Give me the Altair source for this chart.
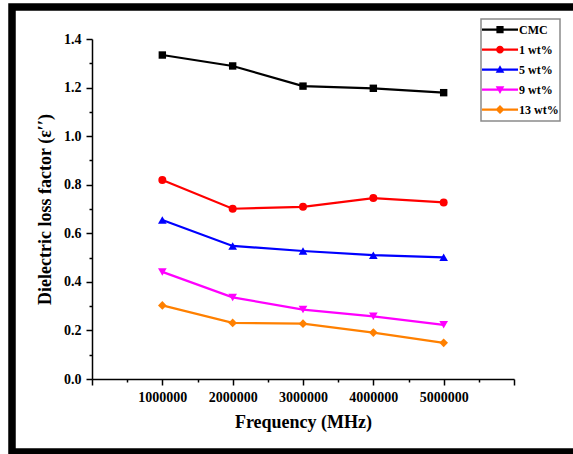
import altair as alt
import pandas as pd

# ---- data ----
freq = [1000000, 2000000, 3000000, 4000000, 5000000]
series_names = ["CMC", "1 wt%", "5 wt%", "9 wt%", "13 wt%"]
cmc = [1.334, 1.289, 1.206, 1.197, 1.179]
wt1 = [0.819, 0.701, 0.709, 0.745, 0.727]
wt5 = [0.655, 0.548, 0.527, 0.510, 0.501]
wt9 = [0.441, 0.336, 0.286, 0.258, 0.223]
wt13 = [0.303, 0.231, 0.228, 0.191, 0.149]
all_values = [cmc, wt1, wt5, wt9, wt13]

x_tick_values = [i * 500000 for i in range(13)]
y_tick_values = [round(i * 0.1, 1) for i in range(15)]

# ---- styles ----
colors = ["#000000", "#FF0000", "#0000FF", "#FF00FF", "#FF8000"]
marker_shapes = ["square", "circle", "triangle-up", "triangle-down", "diamond"]
marker_sizes = [55, 64, 75, 75, 75]
legend_paths = [
    "M-1,-0.06H1V0.06H-1Z M-0.2,-0.2H0.2V0.2H-0.2Z",
    "M-1,-0.06H1V0.06H-1Z M-0.22,0A0.22,0.22 0 1,1 0.22,0A0.22,0.22 0 1,1 -0.22,0Z",
    "M-1,-0.06H1V0.06H-1Z M0,-0.24L0.24,0.18L-0.24,0.18Z",
    "M-1,-0.06H1V0.06H-1Z M0,0.24L-0.24,-0.18L0.24,-0.18Z",
    "M-1,-0.06H1V0.06H-1Z M0,-0.25L0.25,0L0,0.25L-0.25,0Z",
]

rows = []
for name, vals in zip(series_names, all_values):
    for f, v in zip(freq, vals):
        rows.append({"Frequency": f, "value": v, "series": name})
df = pd.DataFrame(rows)

FONT = "Liberation Serif"

x_enc = alt.X(
    "Frequency:Q",
    scale=alt.Scale(domain=[0, 6000000], nice=False, zero=False),
    axis=alt.Axis(
        title="Frequency (MHz)",
        values=x_tick_values,
        format="d",
        labelExpr="(datum.value % 1000000 === 0 && datum.value > 0 && datum.value < 6000000) ? datum.label : ''",
        tickSize={"condition": {"test": "datum.value % 1000000 === 0", "value": 6}, "value": 3},
        labelPadding=5,
        titlePadding=9,
        labelFlush=False,
        labelOverlap=False,
    ),
)
y_enc = alt.Y(
    "value:Q",
    scale=alt.Scale(domain=[0, 1.4], nice=False),
    axis=alt.Axis(
        title="Dielectric loss factor (ε′′)",
        values=y_tick_values,
        format=".1f",
        labelExpr="round(datum.value * 10) % 2 === 0 ? datum.label : ''",
        tickSize={"condition": {"test": "round(datum.value * 10) % 2 === 0", "value": 6}, "value": 3},
        labelPadding=5,
        titlePadding=9,
        labelFlush=False,
        labelOverlap=False,
    ),
)

layers = []
for name, col in zip(series_names, colors):
    layers.append(
        alt.Chart(df)
        .transform_filter(alt.datum.series == name)
        .mark_line(color=col, strokeWidth=2.2)
        .encode(x=x_enc, y=y_enc)
    )
for name, col, shp, sz in zip(series_names, colors, marker_shapes, marker_sizes):
    layers.append(
        alt.Chart(df)
        .transform_filter(alt.datum.series == name)
        .mark_point(color=col, shape=shp, size=sz, filled=True, opacity=1)
        .encode(x=x_enc, y=y_enc)
    )

legend_layer = (
    alt.Chart(df)
    .mark_point(filled=True, opacity=0)
    .encode(
        x=x_enc,
        y=y_enc,
        color=alt.Color("series:N", scale=alt.Scale(domain=series_names, range=colors), legend=alt.Legend(title=None)),
        shape=alt.Shape("series:N", scale=alt.Scale(domain=series_names, range=legend_paths), legend=alt.Legend(title=None)),
    )
)
layers.append(legend_layer)

frame = (
    alt.Chart(pd.DataFrame({"a": [0]}))
    .mark_rect(fillOpacity=0, stroke="black", strokeWidth=7.5)
    .encode(x=alt.value(-80), x2=alt.value(508), y=alt.value(-32), y2=alt.value(413))
)
layers.append(frame)

chart = (
    alt.layer(*layers)
    .properties(
        width=422,
        height=340,
        padding={"left": 92, "top": 39, "right": 59, "bottom": 75},
        autosize=alt.AutoSizeParams(type="none"),
        background="white",
    )
    .configure_view(stroke="transparent")
    .configure_axis(
        grid=False,
        domainColor="black",
        domainWidth=1.5,
        tickColor="black",
        tickWidth=1.5,
        labelFont=FONT,
        labelFontWeight="bold",
        labelFontSize=14,
        labelColor="black",
        titleFont=FONT,
        titleFontWeight="bold",
        titleFontSize=18,
        titleColor="black",
    )
    .configure_legend(
        orient="none",
        legendX=389,
        legendY=-20,
        symbolSize=1296,
        symbolStrokeWidth=0,
        symbolOpacity=1,
        labelFont=FONT,
        labelFontWeight="bold",
        labelFontSize=12,
        labelColor="black",
        labelOffset=1,
        padding=1,
        rowPadding=0,
        clipHeight=19.2,
        strokeColor="#8a8a8a",
        strokeWidth=1.5,
        fillColor="white",
    )
)

chart.save("out.html", embed_options={"renderer": "svg", "actions": False})
